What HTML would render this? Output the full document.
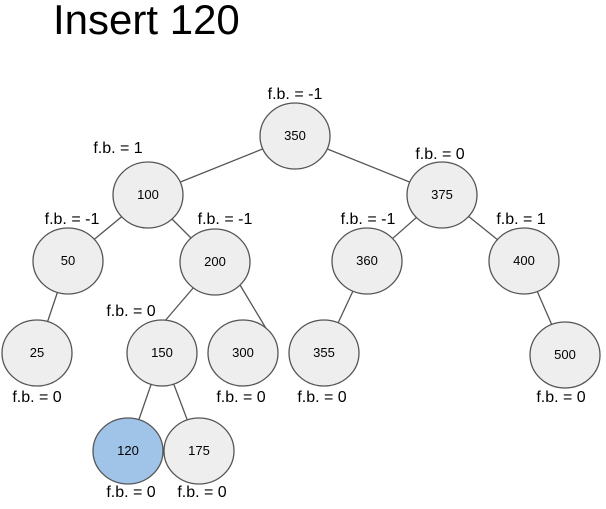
<!DOCTYPE html>
<html><head><style>body{margin:0;background:#fff}svg{display:block}</style></head><body>
<svg width="606" height="509" xmlns="http://www.w3.org/2000/svg" font-family="Liberation Sans, Arial, sans-serif">
<text x="53" y="34" font-size="42" fill="#000">Insert 120</text>
<g stroke="#555" stroke-width="1.3">
<line x1="295" y1="136" x2="148" y2="195"/>
<line x1="295" y1="136" x2="442" y2="195"/>
<line x1="148" y1="195" x2="68" y2="261"/>
<line x1="148" y1="195" x2="215" y2="262"/>
<line x1="442" y1="195" x2="367" y2="261"/>
<line x1="442" y1="195" x2="524" y2="261"/>
<line x1="68" y1="261" x2="37" y2="353"/>
<line x1="200" y1="280" x2="164" y2="322"/>
<line x1="240" y1="285" x2="273" y2="340"/>
<line x1="367" y1="261" x2="324" y2="353"/>
<line x1="524" y1="261" x2="565" y2="355"/>
<line x1="162" y1="353" x2="128" y2="451"/>
<line x1="162" y1="353" x2="199" y2="451"/>
</g>
<g stroke="#555" stroke-width="1.3" fill="#eeeeee">
<ellipse cx="295" cy="136" rx="35" ry="33"/>
<ellipse cx="148" cy="195" rx="35" ry="33"/>
<ellipse cx="442" cy="195" rx="35" ry="33"/>
<ellipse cx="68" cy="261" rx="35" ry="33"/>
<ellipse cx="215" cy="262" rx="35" ry="33"/>
<ellipse cx="367" cy="261" rx="35" ry="33"/>
<ellipse cx="524" cy="261" rx="35" ry="33"/>
<ellipse cx="37" cy="353" rx="35" ry="33"/>
<ellipse cx="162" cy="353" rx="35" ry="33"/>
<ellipse cx="243" cy="353" rx="35" ry="33"/>
<ellipse cx="324" cy="353" rx="35" ry="33"/>
<ellipse cx="565" cy="355" rx="35" ry="33"/>
<ellipse cx="128" cy="451" rx="35" ry="33" fill="#a0c4e8"/>
<ellipse cx="199" cy="451" rx="35" ry="33"/>
</g>
<g font-size="13" text-anchor="middle" fill="#000">
<text x="295" y="140">350</text><text x="148" y="199">100</text><text x="442" y="199">375</text>
<text x="68" y="265">50</text><text x="215" y="266">200</text><text x="367" y="265">360</text><text x="524" y="265">400</text>
<text x="37" y="357">25</text><text x="162" y="357">150</text><text x="243" y="357">300</text><text x="324" y="357">355</text><text x="565" y="359">500</text>
<text x="128" y="455">120</text><text x="199" y="455">175</text>
</g>
<g font-size="16" text-anchor="middle" fill="#000">
<text x="295" y="99">f.b. = -1</text>
<text x="118" y="153">f.b. = 1</text>
<text x="440" y="159">f.b. = 0</text>
<text x="72" y="224">f.b. = -1</text>
<text x="225" y="224">f.b. = -1</text>
<text x="368" y="224">f.b. = -1</text>
<text x="521" y="224">f.b. = 1</text>
<text x="131" y="316">f.b. = 0</text>
<text x="37" y="402">f.b. = 0</text>
<text x="241" y="402">f.b. = 0</text>
<text x="322" y="402">f.b. = 0</text>
<text x="561" y="402">f.b. = 0</text>
<text x="131" y="497">f.b. = 0</text>
<text x="202" y="497">f.b. = 0</text>
</g>
</svg>
</body></html>
